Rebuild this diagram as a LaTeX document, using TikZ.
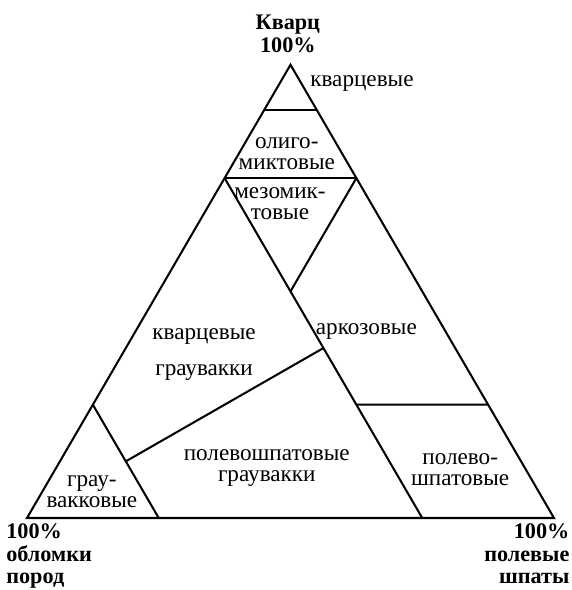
\documentclass[tikz,border=0pt]{standalone}
\usepackage{fontspec}
\setmainfont{Liberation Serif}
\usetikzlibrary{calc}

\begin{document}
\begin{tikzpicture}[
    edge/.style={line width=1.1pt},
    zone/.style={font=\fontsize{12.5}{11.4}\selectfont, align=center, inner sep=0pt},
    pole/.style={font=\fontsize{12}{12}\selectfont\bfseries, inner sep=0pt}]
    \useasboundingbox (-0.512,-1.366) rectangle (10.323,9.829);
    % vertices: rock fragments, feldspar, quartz
    \coordinate (R) at (0,0);
    \coordinate (F) at (10,0);
    \coordinate (Q) at (5,8.6);
    \foreach \p in {25,75,90}{%
        \coordinate (l\p) at ($(R)!\p/100!(Q)$);
        \coordinate (r\p) at ($(F)!\p/100!(Q)$);
    }%
    \coordinate (b25) at ($(F)!0.25!(R)$);
    \coordinate (b75) at ($(R)!0.25!(F)$);
    \coordinate (m50) at ($(l75)!1/3!(b25)$);
    \coordinate (m25) at ($(l75)!2/3!(b25)$);
    \coordinate (fq1) at ($(l25)!0.5!(b75)$);
    \coordinate (fq2) at ($(l75)!0.5!(b25)$);

    \draw[edge, line join=miter] (R) -- (F) -- (Q) -- cycle;
    \draw[edge] (l90) -- (r90);
    \draw[edge] (l75) -- (r75);
    \draw[edge] (l75) -- (b25);
    \draw[edge] (r75) -- (m50);
    \draw[edge] (l25) -- (b75);
    \draw[edge] (fq1) -- (fq2);
    \draw[edge] (m25) -- (r25);

    \node[pole, align=center, anchor=north] (kvarc) at (4.95,9.545) {Кварц\\100\%};
    \node[pole, align=left, anchor=north west] (oblomki) at (-0.40,-0.11) {100\%\\обломки\\пород};
    \node[pole, align=right, anchor=north east] (polevye) at (10.30,-0.11) {100\%\\полевые\\шпаты};

    \node[zone, anchor=west] (kvarcevye) at (5.37,8.25) {кварцевые};
    \node[zone] (oligo) at (4.93,6.92) {олиго-\\миктовые};
    \node[zone] (mezo) at (4.80,5.97) {мезомик-\\товые};
    \node[zone] (kvgrau) at (3.36,3.10) {кварцевые\\[8.2pt]граувакки};
    \node[zone] (arkoz) at (6.44,3.54) {аркозовые};
    \node[zone] (polgrau) at (4.55,0.95) {полевошпатовые\\граувакки};
    \node[zone] (grau) at (1.23,0.50) {грау-\\вакковые};
    \node[zone] (polsh) at (8.22,0.91) {полево-\\шпатовые};
\end{tikzpicture}
\end{document}
